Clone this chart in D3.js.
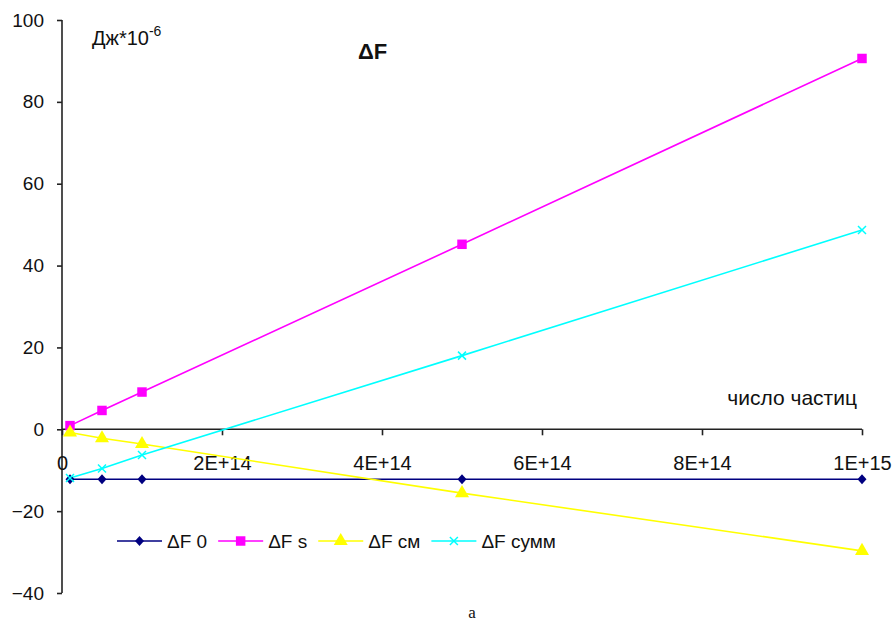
<!DOCTYPE html>
<html>
<head>
<meta charset="utf-8">
<script src="https://cdn.jsdelivr.net/npm/d3@7"></script>
<style>
    body { margin: 0; background: #fff; }
    svg { display: block; }
    text { font-family: "Liberation Sans", Arial, sans-serif; fill: #111; }
</style>
</head>
<body>
<svg id="chart" width="895" height="623"></svg>
<script>
// __________________________ data _______________________________
var particles = [1e13, 5e13, 1e14, 5e14, 1e15];
var dF0 = [-12.2, -12.2, -12.2, -12.2, -12.2];
var dFs = [0.9, 4.6, 9.1, 45.2, 90.6];
var dFsm = [-0.8, -2.2, -3.6, -15.6, -29.7];
var dFsum = [-11.9, -9.6, -6.3, 18.0, 48.7];

var seriesNames = ["ΔF 0", "ΔF s", "ΔF см", "ΔF сумм"];
var xTicks = [0, 2e14, 4e14, 6e14, 8e14, 1e15];
var xTickLabels = ["0", "2E+14", "4E+14", "6E+14", "8E+14", "1E+15"];
var yTicks = [-40, -20, 0, 20, 40, 60, 80, 100];

var series = [
    { name: seriesNames[0], values: dF0, color: "#000080", marker: "diamond" },
    { name: seriesNames[1], values: dFs, color: "#ff00ff", marker: "square" },
    { name: seriesNames[2], values: dFsm, color: "#ffff00", marker: "triangle" },
    { name: seriesNames[3], values: dFsum, color: "#00ffff", marker: "cross" }
];

var svg = d3.select("#chart");

var x = d3.scaleLinear().domain([0, 1e15]).range([62, 862]);
var y = d3.scaleLinear().domain([-40, 100]).range([593, 20]);

// y axis, ticks point outwards
var yAxis = d3.axisLeft(y).tickValues(yTicks).tickSize(5).tickPadding(13);
var gy = svg.append("g")
    .attr("transform", "translate(" + x(0) + ",0)")
    .call(yAxis);
gy.select(".domain").attr("stroke", "#222").attr("stroke-width", 1.6).attr("d", "M0," + y(100) + "V" + y(-40));
gy.selectAll(".tick line").attr("stroke", "#222").attr("stroke-width", 1.6);
gy.selectAll(".tick text")
    .style("font-size", "19px")
    .style("font-family", "'Liberation Sans', Arial, sans-serif")
    .attr("fill", "#111");

// x axis sits on zero, labels pushed down
var xAxis = d3.axisBottom(x)
    .tickValues(xTicks)
    .tickSize(6)
    .tickPadding(21)
    .tickFormat((d, i) => xTickLabels[i]);
var gx = svg.append("g")
    .attr("transform", "translate(0," + y(0) + ")")
    .call(xAxis);
gx.select(".domain").attr("stroke", "#222").attr("stroke-width", 1.6).attr("d", "M" + x(0) + ",0H" + x(1e15));
gx.selectAll(".tick line").attr("stroke", "#222").attr("stroke-width", 1.6);
gx.selectAll(".tick text")
    .style("font-size", "20px")
    .style("font-family", "'Liberation Sans', Arial, sans-serif")
    .attr("fill", "#111");

// lines
var line = d3.line()
    .x((d, i) => x(particles[i]))
    .y((d) => y(d));

function markerPath(type) {
    if (type === "diamond") return "M0,-5L4.5,0L0,5L-4.5,0Z";
    if (type === "square") return d3.symbol().type(d3.symbolSquare).size(90)();
    if (type === "triangle") return d3.symbol().type(d3.symbolTriangle).size(85)();
    return "M-4,-4L4,4M4,-4L-4,4";
}

function drawMarker(g, s) {
    var p = g.append("path").attr("d", markerPath(s.marker));
    if (s.marker === "cross") {
        p.attr("fill", "none").attr("stroke", s.color).attr("stroke-width", 1.5);
    } else {
        p.attr("fill", s.color).attr("stroke", "none");
    }
}

series.forEach((s) => {
    svg.append("path")
        .datum(s.values)
        .attr("fill", "none")
        .attr("stroke", s.color)
        .attr("stroke-width", 1.6)
        .attr("d", line);
});

series.forEach((s) => {
    s.values.forEach((v, i) => {
        var g = svg.append("g")
            .attr("transform", "translate(" + x(particles[i]) + "," + y(v) + ")");
        drawMarker(g, s);
    });
});

// texts
svg.append("text")
    .attr("x", 92)
    .attr("y", 45)
    .style("font-size", "20px")
    .text("Дж*10")
    .append("tspan")
    .attr("dy", -9)
    .style("font-size", "14px")
    .text("-6");

svg.append("text")
    .attr("x", 358)
    .attr("y", 59)
    .style("font-size", "22px")
    .style("font-weight", "bold")
    .text("ΔF");

svg.append("text")
    .attr("x", 857)
    .attr("y", 405)
    .attr("text-anchor", "end")
    .style("font-size", "21px")
    .text("число частиц");

// legend
var legend = svg.append("g").attr("transform", "translate(0,541)");
var lx = 117;
series.forEach((s) => {
    var item = legend.append("g").attr("transform", "translate(" + lx + ",0)");
    item.append("line")
        .attr("x1", 0).attr("x2", 45)
        .attr("y1", 0).attr("y2", 0)
        .attr("stroke", s.color)
        .attr("stroke-width", 1.6);
    var m = item.append("g").attr("transform", "translate(22.5,0)");
    drawMarker(m, s);
    var t = item.append("text")
        .attr("x", 50)
        .attr("y", 7)
        .style("font-size", "19px")
        .text(s.name);
    lx += 50 + t.node().getComputedTextLength() + 11;
});

// caption under the chart
svg.append("text")
    .attr("x", 472)
    .attr("y", 618)
    .attr("text-anchor", "middle")
    .style("font-family", "'Liberation Serif', 'Times New Roman', serif")
    .style("font-size", "17px")
    .text("a");
</script>
</body>
</html>
